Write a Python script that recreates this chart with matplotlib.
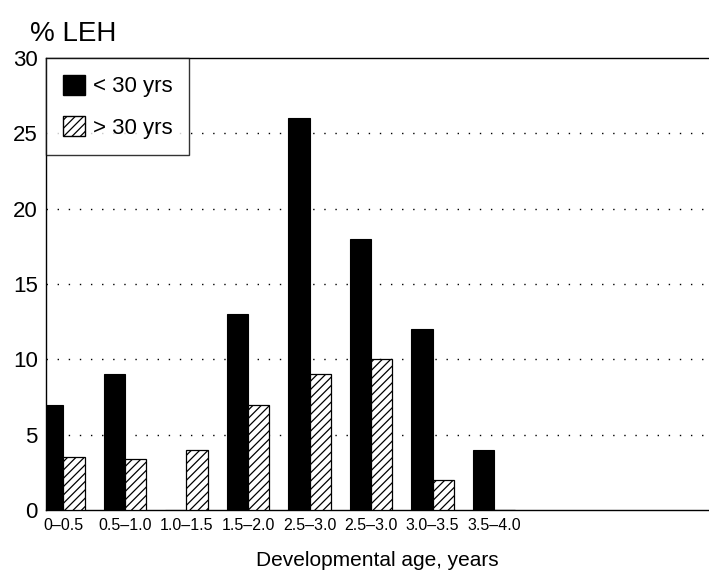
import numpy as np
import matplotlib.pyplot as plt
from matplotlib.patches import Patch

plt.rcParams['font.family'] = ['Liberation Sans', 'DejaVu Sans']
plt.rcParams['hatch.linewidth'] = 0.9

ages = ["0–0.5", "0.5–1.0", "1.0–1.5", "1.5–2.0", "2.5–3.0", "2.5–3.0", "3.0–3.5", "3.5–4.0"]
under_30 = [7, 9, 0, 13, 26, 18, 12, 4]
over_30 = [3.5, 3.4, 4, 7, 9, 10, 2, 0]

x = np.arange(len(ages))
w = 0.345

fig = plt.figure(figsize=(7.09, 5.74), dpi=100)
ax = fig.add_axes([0.065, 0.1115, 0.935, 0.7875])

ax.bar(x - w / 2, under_30, w, color="black", edgecolor="black", linewidth=0.8, zorder=3)
ax.bar(x + w / 2, over_30, w, color="white", edgecolor="black", hatch="////",
       linewidth=0.9, zorder=3)

ax.set_xlim(-0.28, 10.49)
ax.set_ylim(0, 30)
ax.set_yticks([0, 5, 10, 15, 20, 25, 30])
ax.tick_params(axis="y", length=0, labelsize=16, pad=6)
ax.set_xticks(x)
ax.set_xticklabels(ages, fontsize=11.5)
ax.tick_params(axis="x", length=0, pad=6)

for v in [5, 10, 15, 20, 25]:
    ax.axhline(v, color="black", linestyle=(0, (1, 7)), linewidth=1.0, zorder=1)

ax.spines["right"].set_visible(False)
for s in ["left", "top", "bottom"]:
    ax.spines[s].set_linewidth(1.0)

ax.set_xlabel("Developmental age, years", fontsize=15, labelpad=13)
fig.text(0.042, 0.94, "% LEH", fontsize=20, ha="left", va="center")

handles = [Patch(facecolor="black", edgecolor="black", label="< 30 yrs"),
           Patch(facecolor="white", edgecolor="black", hatch="////", label="> 30 yrs")]
leg = ax.legend(handles=handles, loc="upper left", fontsize=16, frameon=True,
                fancybox=False, borderaxespad=0, handlelength=1.0, handleheight=1.0,
                handletextpad=0.35, labelspacing=0.85, borderpad=0.75)
leg.get_frame().set_edgecolor("black")
leg.get_frame().set_linewidth(1.0)

fig.savefig("out.png", dpi=100)
